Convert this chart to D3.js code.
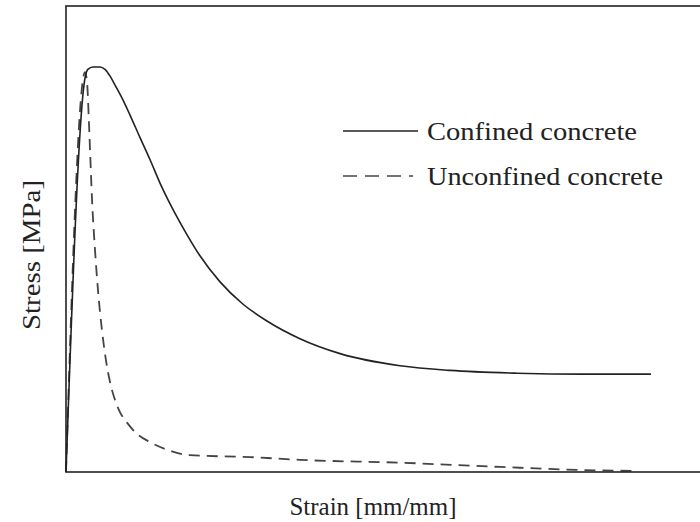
<!DOCTYPE html>
<html>
<head>
<meta charset="utf-8">
<script src="https://cdn.jsdelivr.net/npm/d3@7"></script>
<style>
  body { margin: 0; background: #fff; }
  text { font-family: "Liberation Serif", "Times New Roman", serif; fill: #222; }
</style>
</head>
<body>
<div id="chart"></div>
<script>
// strain [mm/mm] and stress [MPa] (no ticks in the original)
const confinedStrain = [0, 0.00096, 0.0011, 0.00136, 0.00171, 0.00196, 0.00221, 0.00247, 0.00287, 0.00322, 0.00372, 0.00423, 0.00473, 0.00523, 0.00589, 0.00674, 0.00775, 0.00891, 0.01011, 0.01177, 0.01379, 0.01681, 0.01932, 0.02269, 0.02601, 0.02943]
const confinedStress = [0, 42.3, 43.2, 43.45, 43.45, 43.2, 42.5, 41.5, 39.9, 38.3, 35.9, 33.5, 31.0, 28.8, 26.2, 23.2, 20.4, 18.0, 16.2, 14.3, 12.7, 11.4, 10.9, 10.6, 10.5, 10.5]
const unconfinedStrain = [0, 0.00096, 0.00106, 0.00116, 0.00121, 0.00131, 0.00146, 0.00161, 0.00181, 0.00201, 0.00221, 0.00247, 0.00272, 0.00307, 0.00347, 0.00423, 0.00508, 0.00624, 0.00926, 0.01177, 0.01681, 0.02184, 0.02601, 0.02863]
const unconfinedStress = [0, 42.9, 41.8, 37.2, 34.5, 29.2, 23.8, 19.5, 15.2, 12.0, 9.7, 7.7, 6.4, 5.3, 4.3, 3.2, 2.4, 1.8, 1.6, 1.3, 1.0, 0.54, 0.21, 0.11]
const seriesNames = ['Confined concrete', 'Unconfined concrete']

const width = 700, height = 522
const margin = {left: 66, top: 6, right: -2, bottom: 50}

const svg = d3.select('#chart').append('svg')
  .attr('width', width)
  .attr('height', height)

const x = d3.scaleLinear().domain([0, 0.032]).range([margin.left, width - margin.right])
const y = d3.scaleLinear().domain([0, 50]).range([height - margin.bottom, margin.top])

const line = d3.line()
  .x(d => x(d[0]))
  .y(d => y(d[1]))
  .curve(d3.curveMonotoneX)

const confined = d3.zip(confinedStrain, confinedStress)
const unconfined = d3.zip(unconfinedStrain, unconfinedStress)

svg.append('path')
  .datum(unconfined)
  .attr('d', line)
  .attr('fill', 'none')
  .attr('stroke', '#444')
  .attr('stroke-width', 1.8)
  .attr('stroke-dasharray', '11,7')

svg.append('path')
  .datum(confined)
  .attr('d', line)
  .attr('fill', 'none')
  .attr('stroke', '#222')
  .attr('stroke-width', 1.6)

// frame
svg.append('rect')
  .attr('x', margin.left)
  .attr('y', margin.top)
  .attr('width', width - margin.right - margin.left)
  .attr('height', height - margin.bottom - margin.top)
  .attr('fill', 'none')
  .attr('stroke', '#222')
  .attr('stroke-width', 1.6)

// axis titles
svg.append('text')
  .attr('x', 373)
  .attr('y', 515)
  .attr('text-anchor', 'middle')
  .attr('font-size', 25)
  .attr('textLength', 167)
  .attr('lengthAdjust', 'spacingAndGlyphs')
  .text('Strain [mm/mm]')

svg.append('text')
  .attr('transform', 'translate(40,255) rotate(-90)')
  .attr('text-anchor', 'middle')
  .attr('font-size', 25)
  .attr('textLength', 150)
  .attr('lengthAdjust', 'spacingAndGlyphs')
  .text('Stress [MPa]')

// legend
const legend = svg.append('g')
const legendRows = [
  {name: seriesNames[0], dash: null, y: 131, end: 418, textLen: 210},
  {name: seriesNames[1], dash: '14,8', y: 176, end: 413, textLen: 236}
]
legendRows.forEach(r => {
  legend.append('line')
    .attr('x1', 343).attr('x2', r.end)
    .attr('y1', r.y).attr('y2', r.y)
    .attr('stroke', r.dash ? '#444' : '#222')
    .attr('stroke-width', 1.6)
    .attr('stroke-dasharray', r.dash)
  legend.append('text')
    .attr('x', 427)
    .attr('y', r.y + 9)
    .attr('font-size', 25)
    .attr('textLength', r.textLen)
    .attr('lengthAdjust', 'spacingAndGlyphs')
    .text(r.name)
})
</script>
</body>
</html>
